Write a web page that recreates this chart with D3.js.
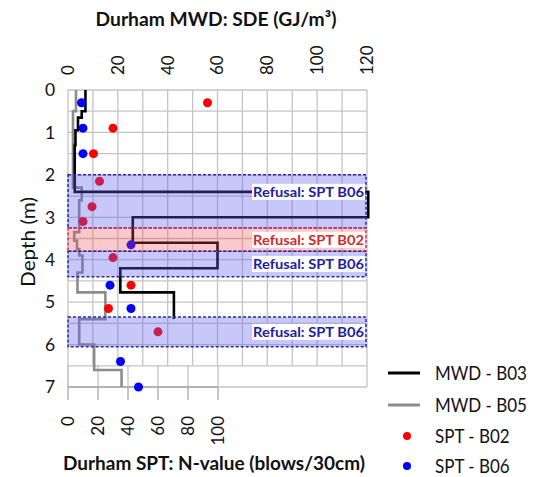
<!DOCTYPE html>
<html><head><meta charset="utf-8">
<script src="https://cdn.jsdelivr.net/npm/d3@7/dist/d3.min.js"></script>
<style>
html,body{margin:0;padding:0;background:#fff;}
svg{display:block;font-family:Lato,"Open Sans",sans-serif;}
</style></head>
<body><svg id="c" width="535" height="477"></svg>
<script>
// ---------------- data ----------------
const depthTicks = [0,1,2,3,4,5,6,7];
const sdeTicks = [0,20,40,60,80,100,120];
const nTicks = [0,20,40,60,80,100];

// MWD step profiles: interval boundaries (m) and SDE value in each interval (GJ/m3)
const mwdB03Depth = [0, 0.5, 0.65, 0.95, 1.3, 2.4, 3.0, 3.6, 4.2, 4.77, 5.4];
const mwdB03SDE   = [7, 5.5, 4, 3, 2.7, 120.5, 26, 60, 21, 42.5];
const mwdB05Depth = [0, 0.5, 2.3, 2.6, 3.35, 3.55, 3.75, 3.9, 4.3, 4.77, 5.4, 6.0, 6.6, 7.0];
const mwdB05SDE   = [3.2, 2.0, 5.5, 4.5, 2.5, 3.6, 4.5, 5.8, 3.8, 15, 4.5, 10.5, 21.5];

// SPT N-values
const sptB02Depth = [0.3, 0.9, 1.5, 2.15, 2.75, 3.1, 3.95, 4.6, 5.15, 5.7];
const sptB02N     = [93, 30, 17, 21, 16, 10, 30, 42, 27, 60];
const sptB06Depth = [0.3, 0.9, 1.5, 3.65, 4.6, 5.15, 6.4, 7.0];
const sptB06N     = [9, 10, 10, 42, 28, 42, 35, 47];

// Refusal zones
const refusalTop      = [2.0, 3.25, 3.8, 5.35];
const refusalBottom   = [3.25, 3.8, 4.4, 6.05];
const refusalBorehole = ["B06", "B02", "B06", "B06"];
const refusalLabelDepth = [2.4, 3.53, 4.1, 5.7];

const legendLabels = ["MWD - B03", "MWD - B05", "SPT - B02", "SPT - B06"];

// ---------------- layout ----------------
const svg = d3.select("#c");
const y = d3.scaleLinear().domain([0, 7]).range([90, 387]);
const xS = d3.scaleLinear().domain([0, 120]).range([68, 367]);
const xN = d3.scaleLinear().domain([0, 100]).range([68, 218]);

// place text at (x,y) and squeeze horizontally so that it spans width w
function squeezeText(parent, x, yy, str, size, w, anchor, attrs){
  const g = parent.append("g");
  const t = g.append("text").attr("x", 0).attr("y", 0).attr("font-size", size)
    .attr("text-anchor", anchor).text(str);
  Object.entries(attrs || {}).forEach(([k, v]) => t.attr(k, v));
  const len = t.node().getComputedTextLength();
  const s = Math.min(1.15, w / len);
  g.attr("transform", `translate(${x},${yy}) scale(${s.toFixed(4)},1)`);
  return {g, t, s, len};
}

const gridColor = "#c4c4c4";
const g = svg.append("g");
g.selectAll("line.h").data(d3.range(0, 7.01, 0.5)).join("line")
  .attr("x1", xS(0)).attr("x2", xS(120))
  .attr("y1", d => y(d)).attr("y2", d => y(d))
  .attr("stroke", gridColor).attr("stroke-width", 1.3);
g.selectAll("line.v").data(d3.range(0, 121, 10)).join("line")
  .attr("x1", d => xS(d)).attr("x2", d => xS(d))
  .attr("y1", y(0)).attr("y2", d => (d === 0 || d === 120) ? y(7) : y(6.5))
  .attr("stroke", gridColor).attr("stroke-width", 1.3);
g.selectAll("line.vn").data(nTicks).join("line")
  .attr("x1", d => xN(d)).attr("x2", d => xN(d))
  .attr("y1", y(6.5)).attr("y2", y(7))
  .attr("stroke", gridColor).attr("stroke-width", 1.3);
g.selectAll("line.tn").data(nTicks).join("line")
  .attr("x1", d => xN(d)).attr("x2", d => xN(d))
  .attr("y1", y(7)).attr("y2", y(7) + 13)
  .attr("stroke", "#a8a8a8").attr("stroke-width", 1.3);
g.append("line").attr("x1", xN(0)).attr("x2", xN(100)).attr("y1", y(7)).attr("y2", y(7))
  .attr("stroke", "#a8a8a8").attr("stroke-width", 1.3);

function stepPts(depths, vals){
  const pts = [];
  vals.forEach((v, i) => { pts.push([v, depths[i]]); pts.push([v, depths[i+1]]); });
  return pts;
}
const line = d3.line().x(d => xS(d[0])).y(d => y(d[1]));
svg.append("path").attr("d", line(stepPts(mwdB05Depth, mwdB05SDE)))
  .attr("fill", "none").attr("stroke", "#8c8c8c").attr("stroke-width", 2.6);
svg.append("path").attr("d", line(stepPts(mwdB03Depth, mwdB03SDE)))
  .attr("fill", "none").attr("stroke", "#000").attr("stroke-width", 2.6);

svg.selectAll("circle.r").data(sptB02Depth).join("circle")
  .attr("cx", (d, i) => xN(sptB02N[i])).attr("cy", d => y(d)).attr("r", 4.5).attr("fill", "#ff0000");
svg.selectAll("circle.b").data(sptB06Depth).join("circle")
  .attr("cx", (d, i) => xN(sptB06N[i])).attr("cy", d => y(d)).attr("r", 4.5).attr("fill", "#0000ff");

const boxFill = {B06: "rgba(90,90,240,0.34)", B02: "rgba(240,80,80,0.3)"};
const boxStroke = {B06: "#2a2aa0", B02: "#d03a6a"};
const txtColor = {B06: "#2020a0", B02: "#d42a2a"};
refusalTop.forEach((t, i) => {
  const b = refusalBorehole[i];
  svg.append("rect").attr("x", xS(0)).attr("y", y(t))
    .attr("width", xS(120) - xS(0) - 1).attr("height", y(refusalBottom[i]) - y(t))
    .attr("fill", boxFill[b]).attr("stroke", boxStroke[b]).attr("stroke-width", 1.5)
    .attr("stroke-dasharray", "3,2");
});
refusalTop.forEach((t, i) => {
  const b = refusalBorehole[i];
  const gy = y(refusalLabelDepth[i]);
  const right = xS(120) - 3, w = 111;
  svg.append("rect").attr("fill", "#fff").attr("x", right - w - 1).attr("y", gy - 8)
    .attr("width", w + 2).attr("height", 16);
  squeezeText(svg, right, gy, "Refusal: SPT " + b, 14, w, "end",
    {"font-weight": "bold", fill: txtColor[b], dy: "0.36em"});
});

// axes text
svg.selectAll("text.ls").data(depthTicks).join("text")
  .attr("x", 50).attr("y", d => y(d)).attr("dy", "0.36em").attr("text-anchor", "middle")
  .attr("font-size", 17.5).attr("fill", "#111").text(d => d);
squeezeText(svg.append("g").attr("transform", "translate(29,242) rotate(-90)"), 0, 0,
  "Depth (m)", 18.5, 90, "middle", {fill: "#111", dy: "0.35em"});
svg.selectAll("text.ts").data(sdeTicks).join("text")
  .attr("transform", d => `translate(${xS(d)},75) rotate(-90)`).attr("dy", "0.35em")
  .attr("text-anchor", "start").attr("font-size", 17).attr("fill", "#111").text(d => d);
svg.selectAll("text.bs").data(nTicks).join("text")
  .attr("transform", d => `translate(${xN(d)},416) rotate(-90)`).attr("dy", "0.35em")
  .attr("text-anchor", "end").attr("font-size", 17).attr("fill", "#111").text(d => d);
squeezeText(svg, 216, 26, "Durham MWD: SDE (GJ/m³)", 19, 241, "middle",
  {"font-weight": "bold", fill: "#111"});
squeezeText(svg, 214, 470, "Durham SPT: N-value (blows/30cm)", 19, 302, "middle",
  {"font-weight": "bold", fill: "#111"});

// legend
const legY = [373, 405, 436, 466];
const lg = svg.append("g");
lg.append("line").attr("x1", 388).attr("x2", 420).attr("y1", legY[0]).attr("y2", legY[0]).attr("stroke", "#000").attr("stroke-width", 3);
lg.append("line").attr("x1", 388).attr("x2", 420).attr("y1", legY[1]).attr("y2", legY[1]).attr("stroke", "#8c8c8c").attr("stroke-width", 3);
lg.append("circle").attr("cx", 407).attr("cy", legY[2]).attr("r", 4).attr("fill", "#ff0000");
lg.append("circle").attr("cx", 407).attr("cy", legY[3]).attr("r", 4).attr("fill", "#0000ff");
const first = squeezeText(lg, 435, legY[0], legendLabels[0], 19, 92, "start", {fill: "#111", dy: "0.35em"});
legendLabels.slice(1).forEach((lab, i) => {
  const gg = lg.append("g").attr("transform", `translate(435,${legY[i+1]}) scale(${first.s.toFixed(4)},1)`);
  gg.append("text").attr("font-size", 19).attr("fill", "#111").attr("dy", "0.35em").text(lab);
});
</script></body></html>
